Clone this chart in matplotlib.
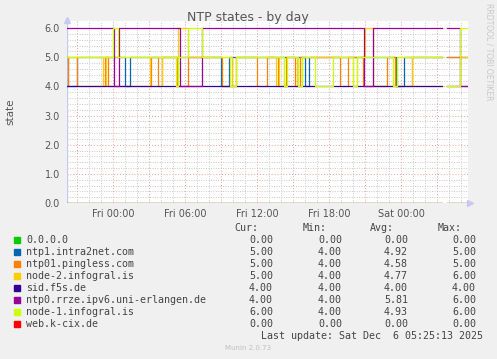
import numpy as np
import matplotlib
matplotlib.use("Agg")
import matplotlib.pyplot as plt

# hours relative to Fri 00:00
t_start = -3.83
t_end = 29.5
gap = (27.42, 27.83)   # no data here

names = ["0.0.0.0", "ntp1.intra2net.com", "ntp01.pingless.com", "node-2.infogral.is",
         "sid.f5s.de", "ntp0.rrze.ipv6.uni-erlangen.de", "node-1.infogral.is", "web.k-cix.de"]
colors = ["#00CC00", "#0066B3", "#FF8000", "#FFCC00", "#330099", "#990099", "#CCFF00", "#FF0000"]

# change points (hour, new value) for every series
zero_t = [t_start]
zero_v = [0]
ntp1_t = [t_start, -3.75, -3.0, 1.0, 1.42, 9.0, 9.67, 16.0, 16.33, 23.58, 24.25]
ntp1_v = [5, 4, 5, 4, 5, 4, 5, 4, 5, 4, 5]
ping_t = [t_start, -3.75, -3.0, -0.67, -0.42, 3.17, 3.75, 4.08, 5.33, 6.25, 9.08, 10.25,
          12.0, 12.83, 13.75, 14.42, 15.17, 15.58, 18.92, 19.58, 20.83, 22.83, 23.5, 24.92]
ping_v = [4, 5, 4, 5, 4, 5, 4, 5, 4, 5, 4, 5, 4, 5, 4, 5, 4, 5, 4, 5, 4, 5, 4, 5]
node2_t = [t_start, -0.83, -0.58, 3.08, 4.08, 5.42, 6.25, 9.92, 10.25, 13.58, 13.83,
           14.25, 15.33, 15.42, 15.75, 20.0, 20.33, 21.0, 21.67, 23.67, 24.92, 28.92]
node2_v = [5, 4, 5, 4, 5, 6, 5, 4, 5, 4, 5, 4, 5, 4, 5, 4, 5, 6, 4, 5, 4, 5]
sid_t = [t_start]
sid_v = [4]
rrze_t = [t_start, 0.08, 0.5, 5.58, 7.42, 20.92, 21.67, 28.92]
rrze_v = [6, 4, 6, 4, 6, 4, 6, 4]
node1_t = [t_start, 0.0, 0.42, 5.25, 5.42, 6.25, 7.42, 9.75, 10.25, 14.25, 14.5, 15.42,
           15.75, 16.83, 18.33, 20.0, 20.33, 23.33, 23.67, 27.83, 28.92]
node1_v = [5, 6, 5, 4, 5, 6, 5, 4, 5, 4, 5, 4, 5, 4, 5, 4, 5, 4, 5, 4, 6]

series = [(zero_t, zero_v), (ntp1_t, ntp1_v), (ping_t, ping_v), (node2_t, node2_v),
          (sid_t, sid_v), (rrze_t, rrze_v), (node1_t, node1_v), (zero_t, zero_v)]

cur = ["0.00", "5.00", "5.00", "5.00", "4.00", "4.00", "6.00", "0.00"]
mins = ["0.00", "4.00", "4.00", "4.00", "4.00", "4.00", "4.00", "0.00"]
avg = ["0.00", "4.92", "4.58", "4.77", "4.00", "5.81", "4.93", "0.00"]
maxs = ["0.00", "5.00", "5.00", "6.00", "4.00", "6.00", "6.00", "0.00"]

xtick_pos = [0, 6, 12, 18, 24]
xtick_lab = ["Fri 00:00", "Fri 06:00", "Fri 12:00", "Fri 18:00", "Sat 00:00"]


def steps(times, vals):
    pts = list(zip(times, vals))
    at_gap_end = [v for t, v in pts if t <= gap[1]][-1]
    pts += [(gap[0], np.nan), (gap[1], at_gap_end)]
    pts = sorted(pts, key=lambda p: p[0])
    pts.append((t_end, pts[-1][1]))
    x = np.array([p[0] for p in pts])
    y = np.array([p[1] for p in pts], dtype=float)
    return x, y


W, H = 497, 359
fig = plt.figure(figsize=(W / 100, H / 100), dpi=100, facecolor="#F0F0F0")
ax = fig.add_axes([67 / W, 1 - 203 / H, 401 / W, 182 / H])
ax.set_facecolor("white")
ymax = 6 * 182 / 175
ax.set_xlim(t_start, 29.58)
ax.set_ylim(0, ymax)

# grid
for h in range(-3, 30):
    if h % 3 == 0:
        ax.axvline(h, color="#E8A0A0", lw=0.7, ls=(0, (1, 2)), zorder=1)
    else:
        ax.axvline(h, color="#C8C8C8", lw=0.7, ls=(0, (1, 1.5)), zorder=0.5)
for k in range(0, 31):
    yv = k * 0.2
    if k % 5 == 0:
        ax.axhline(yv, color="#E8A0A0", lw=0.7, ls=(0, (1, 2)), zorder=1)
    else:
        ax.axhline(yv, color="#C8C8C8", lw=0.7, ls=(0, (1, 1.5)), zorder=0.5)

for (tt, vv), c in zip(series, colors):
    x, y = steps(tt, vv)
    ax.plot(x, y, drawstyle="steps-post", color=c, lw=0.9, zorder=3)

for s in ax.spines.values():
    s.set_visible(False)
ax.axvline(t_start, color="#C8C8F0", lw=1, zorder=2)
ax.plot([t_start], [ymax + 0.05], marker="^", color="#C8C8F0", ms=5, clip_on=False, zorder=4)
ax.plot([29.58 + 0.2], [0], marker=">", color="#C8C8F0", ms=5, clip_on=False, zorder=4)

ax.set_yticks([0, 1, 2, 3, 4, 5, 6])
ax.set_yticklabels(["0.0", "1.0", "2.0", "3.0", "4.0", "5.0", "6.0"])
ax.set_xticks(xtick_pos)
ax.set_xticklabels(xtick_lab)
ax.tick_params(length=0, labelsize=7, colors="#555555", pad=4)
ax.tick_params(axis="y", pad=5)

fig.text(248 / W, 1 - 18 / H, "NTP states - by day", ha="center", va="center",
         fontsize=9, color="#555555")
fig.text(10 / W, 1 - 112 / H, "state", ha="center", va="center", rotation=90,
         fontsize=7.5, color="#555555")
fig.text(489 / W, 1 - 52 / H, "RRDTOOL / TOBI OETIKER", ha="center", va="center",
         rotation=270, fontsize=5.5, color="#C8C8C8")

# legend table
mono = "DejaVu Sans Mono"
fs = 7.2
tc = "#444444"
fig.text(258 / W, 1 - 228 / H, "Cur:", ha="right", va="center", family=mono, fontsize=fs, color=tc)
fig.text(327 / W, 1 - 228 / H, "Min:", ha="right", va="center", family=mono, fontsize=fs, color=tc)
fig.text(394 / W, 1 - 228 / H, "Avg:", ha="right", va="center", family=mono, fontsize=fs, color=tc)
fig.text(462 / W, 1 - 228 / H, "Max:", ha="right", va="center", family=mono, fontsize=fs, color=tc)
for i in range(len(names)):
    yy = 1 - (240 + 12 * i) / H
    fig.patches.append(plt.Rectangle((14 / W, yy - 3 / H), 6 / W, 6 / H, color=colors[i],
                                     transform=fig.transFigure, figure=fig))
    fig.text(26 / W, yy, names[i], ha="left", va="center", family=mono, fontsize=fs, color=tc)
    fig.text(273 / W, yy, cur[i], ha="right", va="center", family=mono, fontsize=fs, color=tc)
    fig.text(342 / W, yy, mins[i], ha="right", va="center", family=mono, fontsize=fs, color=tc)
    fig.text(408 / W, yy, avg[i], ha="right", va="center", family=mono, fontsize=fs, color=tc)
    fig.text(476 / W, yy, maxs[i], ha="right", va="center", family=mono, fontsize=fs, color=tc)

fig.text(483 / W, 1 - 336 / H, "Last update: Sat Dec  6 05:25:13 2025", ha="right", va="center",
         family=mono, fontsize=fs, color=tc)
fig.text(248 / W, 1 - 348 / H, "Munin 2.0.73", ha="center", va="center", fontsize=5,
         color="#C0C0C0")

fig.savefig("out.png", dpi=100, facecolor=fig.get_facecolor())
